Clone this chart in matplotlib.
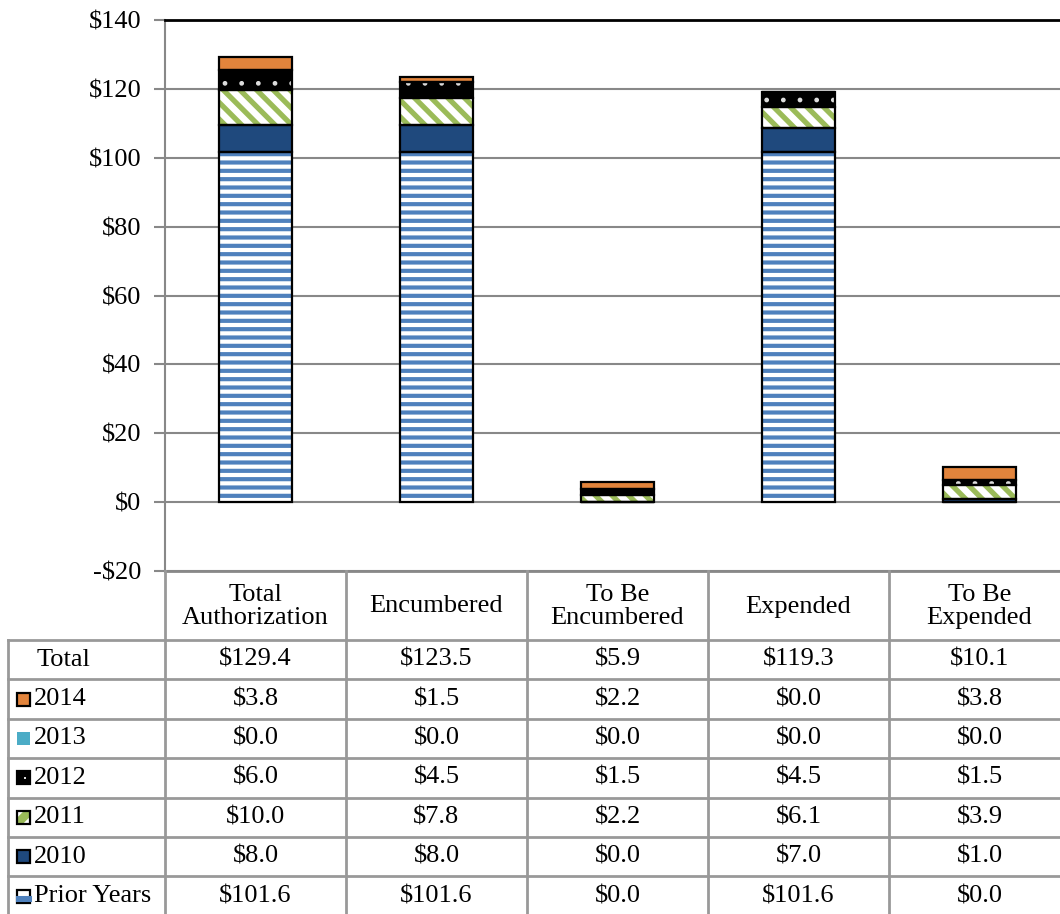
import numpy as np
import matplotlib
matplotlib.use("Agg")
import matplotlib.pyplot as plt
from matplotlib.patches import Rectangle, Polygon, Circle
from matplotlib.lines import Line2D

plt.rcParams['font.family'] = ['Liberation Serif', 'DejaVu Serif']

# data
categories = ["Total\nAuthorization", "Encumbered", "To Be\nEncumbered", "Expended", "To Be\nExpended"]
prior = [101.6, 101.6, 0.0, 101.6, 0.0]
y2010 = [8.0, 8.0, 0.0, 7.0, 1.0]
y2011 = [10.0, 7.8, 2.2, 6.1, 3.9]
y2012 = [6.0, 4.5, 1.5, 4.5, 1.5]
y2013 = [0.0, 0.0, 0.0, 0.0, 0.0]
y2014 = [3.8, 1.5, 2.2, 0.0, 3.8]
totals = [129.4, 123.5, 5.9, 119.3, 10.1]
yticks = [-20, 0, 20, 40, 60, 80, 100, 120, 140]

# series styles: (label, values, face, hatch colour, hatch, hatch lw)
series = [
    ("Prior Years", prior, "white", "#4F81BD", "--", 3.0),
    ("2010", y2010, "#1F497D", "#1F497D", None, 1.0),
    ("2011", y2011, "white", "#9BBB59", "\\\\", 3.8),
    ("2012", y2012, "black", "#DDDDDD", ".", 1.0),
    ("2013", y2013, "#4BACC6", "#4BACC6", None, 1.0),
    ("2014", y2014, "#E2843C", "#E2843C", None, 1.0),
]

W, H = 1060, 914
fig = plt.figure(figsize=(W / 100, H / 100), dpi=100)

def fx(x):
    return x / W

def fy(y):
    return 1 - y / H

ax_left, ax_right, ax_top, ax_bot = 165, 1070, 20, 571
ax = fig.add_axes([fx(ax_left), fy(ax_bot), fx(ax_right - ax_left), (ax_bot - ax_top) / H])
ax.set_xlim(-0.5, len(categories) - 0.5)
ax.set_ylim(-20, 140)

x = np.arange(len(categories))
bottom = np.zeros(len(categories))
for label, vals, face, hcol, hatch, hlw in series:
    vals = np.array(vals)
    with plt.rc_context({'hatch.linewidth': hlw}):
        bars = ax.bar(x, vals, 0.4, bottom=bottom, color=face, edgecolor=hcol,
                      hatch=hatch, linewidth=0, zorder=3)
    for b in bars:
        if hasattr(b, "set_hatch_linewidth"):
            b.set_hatch_linewidth(hlw)
    if label != "2013":
        ax.bar(x, vals, 0.4, bottom=bottom, fill=False, edgecolor="black",
               linewidth=1.6, zorder=4)
    bottom += vals

ax.set_yticks(yticks)
ax.set_yticklabels([("-$%d" % -v) if v < 0 else ("$%d" % v) for v in yticks], fontsize=19)
ax.set_xticks([])
ax.yaxis.grid(True, color="#888888", linewidth=1.5, zorder=0)
ax.tick_params(axis="y", length=8, width=1.5, color="#888888", pad=9)
for s in ["top", "right", "bottom"]:
    ax.spines[s].set_visible(False)
ax.spines["left"].set_color("#888888")
ax.spines["left"].set_linewidth(1.5)
ax.axhline(140, color="black", linewidth=2, zorder=5, clip_on=False)
ax.axhline(-20, color="#888888", linewidth=2, zorder=5, clip_on=False)

# data table under the axes
col_w = 181
line_kw = dict(color="#999999", linewidth=2, transform=fig.transFigure)
row_h = 39.4
rows_top = 640
n_rows = 7
for k in range(len(categories) + 1):
    xx = ax_left + k * col_w
    fig.add_artist(Line2D([fx(xx), fx(xx)], [fy(ax_bot), fy(H + 5)], **line_kw))
fig.add_artist(Line2D([fx(8), fx(8)], [fy(rows_top), fy(H + 5)], **line_kw))
for r in range(n_rows + 1):
    yy = rows_top + r * row_h
    fig.add_artist(Line2D([fx(8), fx(W + 10)], [fy(yy), fy(yy)], **line_kw))

for k, cat in enumerate(categories):
    fig.text(fx(ax_left + (k + 0.5) * col_w), fy((ax_bot + rows_top) / 2 + 1), cat,
             ha="center", va="center", fontsize=19, linespacing=1.05)


def draw_key(label, face, hcol, yc):
    x0, x1 = 17, 30
    y0, y1 = yc - 6.5, yc + 6.5
    tf = fig.transFigure
    fig.add_artist(Rectangle((fx(x0), fy(y1)), fx(x1 - x0), (y1 - y0) / H,
                             transform=tf, facecolor=face, linewidth=0))
    if label == "Prior Years":
        for yy in (yc + 0.5, yc + 4):
            fig.add_artist(Line2D([fx(x0), fx(x1)], [fy(yy), fy(yy)], color=hcol,
                                  linewidth=2.2, transform=tf))
    elif label == "2011":
        pts = [(x1 - 6, y0), (x1, y0), (x1, y0 + 6), (x0 + 6, y1), (x0, y1), (x0, y1 - 6)]
        fig.add_artist(Polygon([(fx(a), fy(b)) for a, b in pts], closed=True,
                               transform=tf, facecolor=hcol, linewidth=0))
    elif label == "2012":
        fig.add_artist(Rectangle((fx(x0 + 7), fy(yc + 1)), fx(2), 2 / H,
                                 transform=tf, facecolor=hcol, linewidth=0))
    if label != "2013":
        fig.add_artist(Rectangle((fx(x0), fy(y1)), fx(x1 - x0), (y1 - y0) / H,
                                 transform=tf, fill=False, edgecolor="black", linewidth=1.6))


row_labels = ["Total"] + [s[0] for s in reversed(series)]
row_vals = [totals] + [s[1] for s in reversed(series)]
row_style = [None] + list(reversed(series))
for r, (lab, vals, sty) in enumerate(zip(row_labels, row_vals, row_style)):
    yc = rows_top + (r + 0.5) * row_h
    if sty is None:
        fig.text(fx(37), fy(yc), lab, ha="left", va="center", fontsize=19)
    else:
        draw_key(lab, sty[2], sty[3], yc)
        fig.text(fx(34), fy(yc), lab, ha="left", va="center", fontsize=19)
    for k, v in enumerate(vals):
        fig.text(fx(ax_left + (k + 0.5) * col_w), fy(yc), "$%.1f" % v,
                 ha="center", va="center", fontsize=19)

fig.savefig("out.png", dpi=100)
